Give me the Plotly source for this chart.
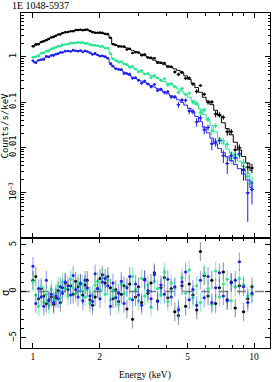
import numpy as np
import plotly.graph_objects as go

# ---------------- data ----------------
energy = [1.00, 1.03, 1.06, 1.09, 1.12, 1.15, 1.18, 1.21, 1.24, 1.27,
          1.30, 1.33, 1.36, 1.40, 1.44, 1.48, 1.52, 1.56, 1.60, 1.64,
          1.68, 1.72, 1.76, 1.81, 1.86, 1.91, 1.96, 2.01, 2.06, 2.12,
          2.18, 2.24, 2.30, 2.37, 2.44, 2.51, 2.58, 2.66, 2.74, 2.82,
          2.91, 3.00, 3.10, 3.20, 3.31, 3.42, 3.54, 3.66, 3.79, 3.93,
          4.07, 4.22, 4.38, 4.55, 4.72, 4.90, 5.09, 5.29, 5.50, 5.72,
          5.95, 6.19, 6.44, 6.70, 6.97, 7.26, 7.56, 7.88, 8.22, 8.58,
          8.96, 9.36, 9.78]

black_model = [1.65, 1.80, 1.95, 2.10, 2.25, 2.40, 2.55, 2.70, 2.85, 2.98,
               3.10, 3.22, 3.32, 3.42, 3.52, 3.62, 3.70, 3.78, 3.84, 3.88,
               3.90, 3.90, 3.88, 3.80, 3.60, 3.45, 3.38, 3.32, 3.25, 3.15,
               3.05, 2.60, 1.95, 1.80, 1.75, 1.70, 1.64, 1.57, 1.45, 1.38,
               1.30, 1.22, 1.14, 1.06, 0.98, 0.91, 0.84, 0.78, 0.72, 0.67,
               0.63, 0.59, 0.54, 0.50, 0.44, 0.38, 0.32, 0.26, 0.21, 0.165,
               0.128, 0.105, 0.088, 0.066, 0.050, 0.035, 0.026, 0.019, 0.013, 0.0088,
               0.0063, 0.0045, 0.0031]

green_model = [0.95, 1.02, 1.10, 1.18, 1.26, 1.34, 1.42, 1.50, 1.57, 1.63,
               1.69, 1.75, 1.80, 1.86, 1.92, 1.97, 2.00, 2.02, 2.03, 2.03,
               2.02, 2.00, 1.98, 1.93, 1.82, 1.76, 1.72, 1.68, 1.64, 1.58,
               1.50, 1.20, 0.90, 0.84, 0.80, 0.76, 0.71, 0.66, 0.61, 0.57,
               0.53, 0.49, 0.46, 0.43, 0.41, 0.385, 0.36, 0.335, 0.31, 0.285,
               0.26, 0.24, 0.215, 0.195, 0.175, 0.150, 0.128, 0.108, 0.088, 0.070,
               0.053, 0.040, 0.030, 0.022, 0.016, 0.012, 0.0092, 0.0075, 0.0061, 0.0050,
               0.0038, 0.0027, 0.0018]

blue_model = [0.74, 0.78, 0.83, 0.88, 0.93, 0.98, 1.03, 1.08, 1.12, 1.16,
              1.20, 1.23, 1.26, 1.29, 1.31, 1.33, 1.34, 1.35, 1.35, 1.34,
              1.33, 1.31, 1.29, 1.25, 1.17, 1.12, 1.09, 1.06, 1.02, 0.97,
              0.91, 0.74, 0.60, 0.56, 0.53, 0.50, 0.46, 0.42, 0.385, 0.355,
              0.33, 0.31, 0.29, 0.27, 0.25, 0.232, 0.215, 0.198, 0.182, 0.167,
              0.152, 0.138, 0.125, 0.112, 0.099, 0.086, 0.073, 0.060, 0.048, 0.037,
              0.028, 0.021, 0.016, 0.012, 0.0095, 0.0076, 0.0062, 0.0051, 0.0042, 0.0034,
              0.0026, 0.0019, 0.0013]

# relative 1-sigma errors
black_rel = [0.03, 0.03, 0.03, 0.03, 0.03, 0.03, 0.03, 0.03, 0.03, 0.03,
             0.025, 0.025, 0.025, 0.025, 0.025, 0.025, 0.025, 0.025, 0.025, 0.025,
             0.025, 0.025, 0.025, 0.025, 0.025, 0.025, 0.025, 0.025, 0.025, 0.025,
             0.03, 0.03, 0.035, 0.035, 0.035, 0.035, 0.04, 0.04, 0.04, 0.04,
             0.045, 0.045, 0.045, 0.05, 0.05, 0.05, 0.055, 0.055, 0.06, 0.06,
             0.06, 0.065, 0.065, 0.07, 0.07, 0.075, 0.08, 0.085, 0.09, 0.095,
             0.10, 0.11, 0.12, 0.13, 0.14, 0.15, 0.16, 0.17, 0.18, 0.20,
             0.22, 0.24, 0.27]

green_rel = [0.035, 0.035, 0.035, 0.035, 0.035, 0.035, 0.035, 0.035, 0.035, 0.035,
             0.03, 0.03, 0.03, 0.03, 0.03, 0.03, 0.03, 0.03, 0.03, 0.03,
             0.03, 0.03, 0.03, 0.03, 0.03, 0.03, 0.03, 0.03, 0.03, 0.03,
             0.035, 0.035, 0.04, 0.04, 0.04, 0.045, 0.045, 0.045, 0.05, 0.05,
             0.05, 0.055, 0.055, 0.06, 0.06, 0.06, 0.065, 0.065, 0.07, 0.07,
             0.075, 0.075, 0.08, 0.085, 0.09, 0.095, 0.10, 0.11, 0.12, 0.13,
             0.14, 0.15, 0.16, 0.17, 0.18, 0.19, 0.20, 0.22, 0.24, 0.26,
             0.28, 0.31, 0.34]

blue_rel = [0.04, 0.04, 0.04, 0.04, 0.04, 0.04, 0.04, 0.04, 0.04, 0.04,
            0.035, 0.035, 0.035, 0.035, 0.035, 0.035, 0.035, 0.035, 0.035, 0.035,
            0.035, 0.035, 0.035, 0.035, 0.035, 0.035, 0.035, 0.035, 0.035, 0.035,
            0.04, 0.04, 0.045, 0.045, 0.05, 0.05, 0.05, 0.055, 0.055, 0.06,
            0.06, 0.065, 0.065, 0.07, 0.07, 0.075, 0.08, 0.08, 0.085, 0.09,
            0.09, 0.095, 0.10, 0.11, 0.12, 0.13, 0.14, 0.15, 0.16, 0.17,
            0.18, 0.19, 0.21, 0.23, 0.25, 0.27, 0.29, 0.31, 0.33, 0.35,
            0.38, 0.40, 0.48]

# residuals in sigma
black_res = [1.2, 1.6, -0.8, 0.3, -0.5, -1.3, -1.0, -0.6, -1.4, -0.7,
             0.1, -1.2, 0.4, 0.9, 0.2, 0.6, -0.3, 1.1, 0.5, 0.8,
             -0.4, 0.7, 1.2, -0.9, -1.5, -0.6, 0.3, 1.4, 1.8, 0.9,
             1.6, 0.4, -0.8, 0.2, -1.1, -0.3, 0.6, -1.9, 0.8, -3.0,
             -0.6, 0.5, -1.2, 1.3, -0.2, 0.9, 2.0, -1.0, 0.4, 1.5,
             -0.7, 0.3, -2.2, -2.6, 0.6, -1.6, 0.8, -0.4, -2.0, 4.3,
             1.7, -0.5, 1.2, -1.3, 0.4, 2.1, -0.9, 1.0, -1.8, 0.6,
             -2.2, -0.8, 0.5]

green_res = [1.0, -0.4, -1.6, 0.5, -1.2, -0.3, -1.5, 0.2, -0.9, -0.2,
             0.6, -0.7, 1.0, 0.3, -0.5, 1.3, 0.4, -0.2, 0.9, 0.1,
             0.8, -0.6, 0.2, -1.3, -0.4, 0.7, 1.1, 0.2, 1.5, -0.3,
             1.2, -0.9, 0.1, -0.6, -1.4, 0.8, -0.2, 0.5, -0.8, 1.6,
             0.2, -1.0, 1.4, -0.5, 0.7, -1.7, 1.1, 0.3, -0.4, 2.1,
             -1.1, 0.9, 0.4, -1.8, 1.5, -0.2, 2.3, -0.7, 0.6, -1.2,
             1.9, 0.3, -1.4, 2.2, -0.6, 0.8, 1.3, -1.0, 0.5, 1.4,
             0.7, -0.5, -0.3]

blue_res = [2.7, -1.3, 0.3, -0.6, -1.6, 1.2, -0.9, -0.3, -1.2, -0.5,
            -0.8, 0.5, -0.2, 1.0, 0.6, -0.4, 1.7, 0.2, -0.6, 0.9,
            -1.0, 1.2, 0.4, -0.5, -1.1, 1.9, 0.3, -0.8, 1.0, 1.4,
            0.6, -1.6, 0.9, -0.7, -0.2, 1.1, -1.3, 0.4, 1.6, -0.9,
            0.8, -0.4, -1.5, 1.2, 0.1, -0.8, 1.8, -1.1, 0.7, -0.3,
            1.3, -0.6, 0.5, -2.0, 1.0, 2.1, -0.9, 0.2, -1.5, 1.2,
            -0.7, 1.6, -1.2, 0.4, 2.0, -0.5, -1.0, 0.9, 1.2, 3.2,
            0.5, -1.2, -0.2]

# tick labels
x_tickvals = [1, 2, 5, 10]
x_ticktext = ["1", "2", "5", "10"]
x_minor = [3, 4, 6, 7, 8, 9]
y_tickvals = [1e-3, 0.01, 0.1, 1]
y_ticktext = ["10<sup>\u22123</sup>", "0.01", "0.1", "1"]
r_tickvals = [-5, 0, 5]
r_ticktext = ["\u22125", "0", "5"]
r_minor = [-6, -4, -3, -2, -1, 1, 2, 3, 4]

title_text = "1E 1048-5937"
ylabel_text = "Counts/s/keV"
rlabel_text = "\u03c3"
xlabel_text = "Energy (keV)"

# ---------------- figure ----------------
E = np.array(energy)
lo = np.sqrt(E * np.concatenate([[E[0] ** 2 / E[1]], E[:-1]]))
hi = np.sqrt(E * np.concatenate([E[1:], [E[-1] ** 2 / E[-2]]]))
xe_plus = hi - E
xe_minus = E - lo

y_minor = [m * 10.0 ** d for d in range(-4, 1) for m in range(2, 10)]

series = [
    ("#000000", "rgba(0,0,0,0.38)", black_model, black_rel, black_res),
    ("#1fe88e", "rgba(31,232,142,0.5)", green_model, green_rel, green_res),
    ("#1e1ef2", "rgba(40,40,255,0.42)", blue_model, blue_rel, blue_res),
]

fig = go.Figure()
for color, light, model, rel, res in series:
    m = np.array(model)
    r = np.array(rel)
    s = np.array(res)
    data = m * (1 + s * r)
    err = m * r
    fig.add_trace(go.Scatter(
        x=E, y=m, mode="lines", line=dict(color=color, width=1, shape="hvh"),
        xaxis="x", yaxis="y", hoverinfo="skip"))
    fig.add_trace(go.Scatter(
        x=E, y=data, mode="markers", marker=dict(color=color, size=2.5),
        error_y=dict(type="data", array=err, color=color, thickness=1, width=0),
        error_x=dict(type="data", array=xe_plus, arrayminus=xe_minus, symmetric=False,
                     color=color, thickness=1, width=0),
        xaxis="x", yaxis="y"))
for color, light, model, rel, res in series:
    fig.add_trace(go.Scatter(
        x=E, y=res, mode="markers", marker=dict(color=color, size=3),
        error_y=dict(type="constant", value=1, color=light, thickness=1.2, width=0),
        error_x=dict(type="data", array=xe_plus, arrayminus=xe_minus, symmetric=False,
                     color=light, thickness=1, width=0),
        xaxis="x2", yaxis="y2"))

split = 110 / 335
xrange = [np.log10(0.883), np.log10(11.8)]
axis_common = dict(showline=True, linecolor="black", linewidth=1, mirror="ticks",
                   ticks="inside", tickcolor="black", showgrid=False, zeroline=False,
                   automargin=False)
mono = dict(family="DejaVu Sans Mono", size=9, color="black")
serif = dict(family="Liberation Serif", size=9.5, color="black")

fig.update_layout(
    width=273, height=382,
    margin=dict(l=21, r=3, t=13, b=34, autoexpand=False),
    paper_bgcolor="white", plot_bgcolor="white",
    showlegend=False,
    xaxis=dict(type="log", range=xrange, domain=[0, 1], anchor="y",
               tickvals=x_tickvals, ticktext=x_ticktext, showticklabels=False,
               ticklen=5, minor=dict(tickvals=x_minor, ticks="inside", ticklen=3,
                                     tickcolor="black", showgrid=False),
               **axis_common),
    yaxis=dict(type="log", range=[-4.0, 0.967], domain=[split, 1], anchor="x",
               tickvals=y_tickvals, ticktext=y_ticktext, tickangle=-90,
               tickfont=mono, ticklen=5,
               minor=dict(tickvals=y_minor, ticks="inside", ticklen=2.5,
                          tickcolor="black", showgrid=False),
               **axis_common),
    xaxis2=dict(type="log", range=xrange, domain=[0, 1], anchor="y2",
                tickvals=x_tickvals, ticktext=x_ticktext, tickfont=serif,
                ticklen=5, minor=dict(tickvals=x_minor, ticks="inside", ticklen=3,
                                      tickcolor="black", showgrid=False),
                **axis_common),
    yaxis2=dict(range=[-6.1, 5.75], domain=[0, split], anchor="x2",
                tickvals=r_tickvals, ticktext=r_ticktext, tickangle=-90,
                tickfont=mono, ticklen=5,
                minor=dict(tickvals=r_minor, ticks="inside", ticklen=2.5,
                           tickcolor="black", showgrid=False),
                **axis_common),
    shapes=[
        dict(type="line", xref="x2 domain", yref="y2", x0=0, x1=1, y0=0, y1=0,
             line=dict(color="#808080", width=1.5, dash="dash"), layer="below"),
        dict(type="line", xref="paper", yref="paper", x0=0, x1=1, y0=split, y1=split,
             line=dict(color="black", width=2)),
    ],
    annotations=[
        dict(text=title_text, xref="paper", yref="paper", x=-11 / 249, y=1 + 7 / 335,
             xanchor="left", yanchor="middle", showarrow=False,
             font=dict(family="Liberation Serif", size=10, color="black")),
        dict(text=ylabel_text, xref="paper", yref="paper", x=-16 / 249,
             y=split + (1 - split) / 2, xanchor="center", yanchor="middle",
             textangle=-90, showarrow=False,
             font=dict(family="DejaVu Sans Mono", size=9, color="black")),
        dict(text=rlabel_text, xref="paper", yref="paper", x=-16 / 249,
             y=(348 - 293) / 335, xanchor="center", yanchor="middle",
             textangle=-90, showarrow=False,
             font=dict(family="DejaVu Sans", size=10, color="black")),
        dict(text=xlabel_text, xref="paper", yref="paper", x=(145 - 21) / 249,
             y=-(375 - 348) / 335, xanchor="center", yanchor="middle",
             showarrow=False, font=dict(family="Liberation Serif", size=9.5, color="black")),
    ],
)

fig.write_html("out.html", config={"displayModeBar": False},
               post_script="document.body.style.margin='0';document.body.style.padding='0';")
